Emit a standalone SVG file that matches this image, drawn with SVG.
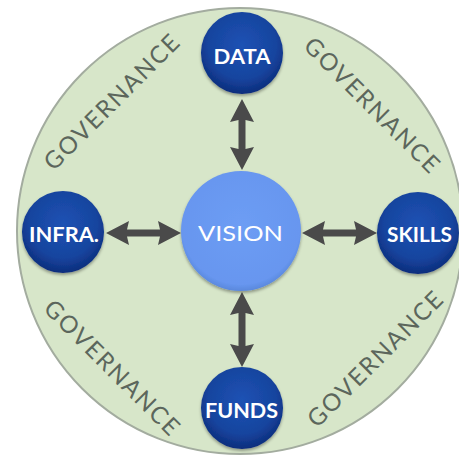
<svg xmlns="http://www.w3.org/2000/svg" width="459" height="459" viewBox="0 0 459 459">
  <defs>
    <radialGradient id="nodeGrad" cx="50%" cy="40%" r="60%">
      <stop offset="0" stop-color="#1d52b4"/>
      <stop offset="0.7" stop-color="#17449e"/>
      <stop offset="1" stop-color="#0c2d7c"/>
    </radialGradient>
    <radialGradient id="visionGrad" cx="50%" cy="45%" r="55%">
      <stop offset="0" stop-color="#6d9df4"/>
      <stop offset="0.9" stop-color="#6796ef"/>
      <stop offset="1" stop-color="#5a88dc"/>
    </radialGradient>
    <filter id="shadow" x="-20%" y="-20%" width="140%" height="150%">
      <feDropShadow dx="0" dy="2" stdDeviation="1.5" flood-color="#000" flood-opacity="0.35"/>
    </filter>
  </defs>
  <style>
    .gov { font-family: Lato, "Open Sans", "Liberation Sans", sans-serif; font-size: 24px; fill: #5c665c; text-anchor: middle; }
    .lbl { font-family: Lato, "Open Sans", "Liberation Sans", sans-serif; font-size: 21px; font-weight: bold; fill: #ffffff; text-anchor: middle; }
    .lbl.main { font-size: 22px; font-weight: normal; }
    .node { fill: url(#nodeGrad); filter: url(#shadow); }
    .arrow { fill: #4a4a4a; }
  </style>

  <rect width="459" height="459" fill="#ffffff"/>

  <g id="background">
    <circle cx="240" cy="231" r="223" fill="#d7e6c9" stroke="#a3ac9f" stroke-width="2"/>
    <text class="gov" transform="translate(111.5,102) rotate(-45)" y="8.5" textLength="180" lengthAdjust="spacing">GOVERNANCE</text>
    <text class="gov" transform="translate(372,105) rotate(45)" y="8.5" textLength="180" lengthAdjust="spacing">GOVERNANCE</text>
    <text class="gov" transform="translate(112,367.5) rotate(45)" y="8.5" textLength="180" lengthAdjust="spacing">GOVERNANCE</text>
    <text class="gov" transform="translate(375,359) rotate(-45)" y="8.5" textLength="180" lengthAdjust="spacing">GOVERNANCE</text>
  </g>

  <g id="connectors">
    <path class="arrow" d="M106,233 L129,221 L127,229.5 L160,229.5 L158,221 L181,233 L158,245 L160,236.5 L127,236.5 L129,245 Z"/>
    <path class="arrow" d="M302,233 L325,221 L323,229.5 L356,229.5 L354,221 L377,233 L354,245 L356,236.5 L323,236.5 L325,245 Z"/>
    <path class="arrow" d="M242,99 L254,122 L245.5,120 L245.5,149 L254,147 L242,170 L230,147 L238.5,149 L238.5,120 L230,122 Z"/>
    <path class="arrow" d="M242,292 L254,315 L245.5,313 L245.5,346 L254,344 L242,367 L230,344 L238.5,346 L238.5,313 L230,315 Z"/>
  </g>

  <g id="vision">
    <circle cx="241" cy="231" r="60" fill="url(#visionGrad)" filter="url(#shadow)"/>
    <text class="lbl main" x="240.5" y="241" textLength="85" lengthAdjust="spacingAndGlyphs">VISION</text>
  </g>
  <g id="data">
    <circle class="node" cx="242" cy="53" r="41"/>
    <text class="lbl" x="242" y="64" textLength="57" lengthAdjust="spacingAndGlyphs">DATA</text>
  </g>
  <g id="infra">
    <circle class="node" cx="63" cy="232" r="41"/>
    <text class="lbl" x="64" y="241.5" textLength="70" lengthAdjust="spacingAndGlyphs">INFRA.</text>
  </g>
  <g id="skills">
    <circle class="node" cx="418" cy="233" r="41"/>
    <text class="lbl" x="419.5" y="242" textLength="65" lengthAdjust="spacingAndGlyphs">SKILLS</text>
  </g>
  <g id="funds">
    <circle class="node" cx="242" cy="408" r="41"/>
    <text class="lbl" x="241.5" y="418" textLength="73" lengthAdjust="spacingAndGlyphs">FUNDS</text>
  </g>
</svg>
